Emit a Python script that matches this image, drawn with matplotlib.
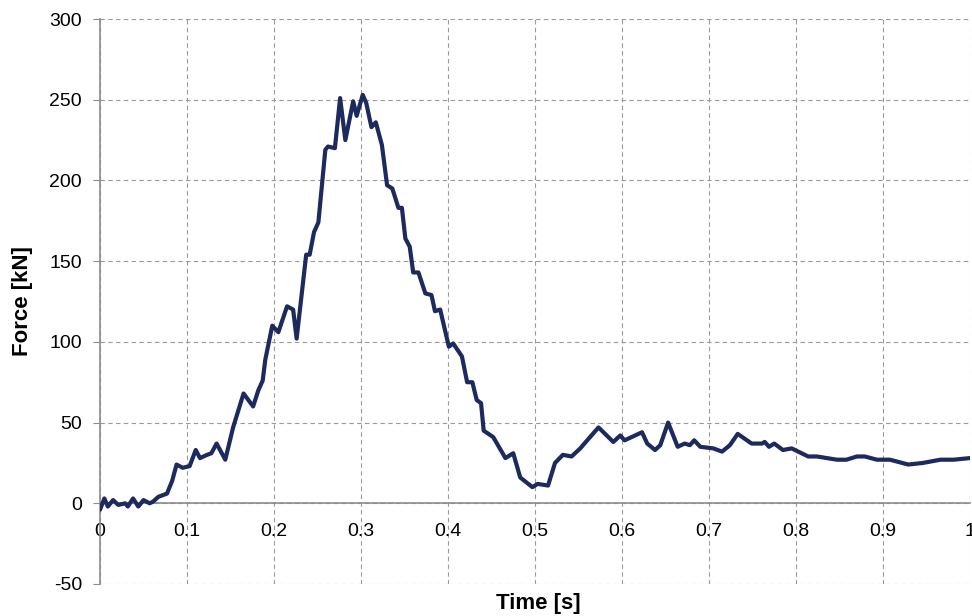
import matplotlib
matplotlib.use('Agg')
import matplotlib.pyplot as plt

plt.rcParams['font.family'] = ['Liberation Sans', 'DejaVu Sans']
plt.rcParams['axes.unicode_minus'] = False

# Force-time trace
time_s = [0.000, 0.005, 0.009, 0.015, 0.021, 0.029, 0.032, 0.038, 0.044, 0.050,
          0.057, 0.061, 0.067, 0.077, 0.083, 0.088, 0.095, 0.103, 0.110, 0.115,
          0.123, 0.128, 0.134, 0.144, 0.153, 0.165, 0.176, 0.182, 0.187, 0.190,
          0.198, 0.205, 0.215, 0.222, 0.226, 0.237, 0.241, 0.246, 0.251, 0.259,
          0.262, 0.270, 0.276, 0.282, 0.291, 0.295, 0.302, 0.306, 0.312, 0.317,
          0.324, 0.330, 0.336, 0.343, 0.347, 0.351, 0.356, 0.360, 0.366, 0.374,
          0.381, 0.385, 0.391, 0.401, 0.406, 0.416, 0.422, 0.428, 0.433, 0.438,
          0.441, 0.452, 0.466, 0.475, 0.483, 0.497, 0.503, 0.515, 0.523, 0.532,
          0.542, 0.552, 0.560, 0.573, 0.590, 0.598, 0.603, 0.623, 0.629, 0.638,
          0.644, 0.653, 0.664, 0.672, 0.678, 0.683, 0.690, 0.705, 0.715, 0.724,
          0.733, 0.749, 0.761, 0.764, 0.769, 0.775, 0.785, 0.795, 0.814, 0.824,
          0.847, 0.858, 0.870, 0.879, 0.893, 0.908, 0.929, 0.946, 0.966, 0.981,
          1.000]
force_kn = [-4, 3, -2, 2, -1, 0, -2, 3, -2, 2,
            0, 1, 4, 6, 14, 24, 22, 23, 33, 28,
            30, 31, 37, 27, 47, 68, 60, 70, 76, 89,
            110, 106, 122, 120, 102, 154, 154, 168, 174, 219,
            221, 220, 251, 225, 249, 240, 253, 248, 233, 236,
            222, 197, 195, 183, 183, 164, 159, 143, 143, 130,
            129, 119, 120, 97, 99, 91, 75, 75, 64, 62,
            45, 41, 28, 31, 16, 10, 12, 11, 25, 30,
            29, 34, 39, 47, 38, 42, 39, 44, 37, 33,
            36, 50, 35, 37, 36, 39, 35, 34, 32, 36,
            43, 37, 37, 38, 35, 37, 33, 34, 29, 29,
            27, 27, 29, 29, 27, 27, 24, 25, 27, 27,
            28]

x_ticks = [0, 0.1, 0.2, 0.3, 0.4, 0.5, 0.6, 0.7, 0.8, 0.9, 1]
x_labels = ['0', '0.1', '0.2', '0.3', '0.4', '0.5', '0.6', '0.7', '0.8', '0.9', '1']
y_ticks = [-50, 0, 50, 100, 150, 200, 250, 300]

LINE_COLOR = '#1c2a5e'
GRID_COLOR = '#9a9a9a'
AXIS_COLOR = '#8c8c8c'

fig = plt.figure(figsize=(9.72, 6.16), dpi=100)
ax = fig.add_axes([100 / 972, 1 - 584 / 616, 870 / 972, 565 / 616])

ax.plot(time_s, force_kn, color=LINE_COLOR, linewidth=3.0,
        solid_joinstyle='round', solid_capstyle='round', zorder=3)

ax.set_xlim(0, 1)
ax.set_ylim(-50, 300)
ax.set_xticks(x_ticks)
ax.set_xticklabels(x_labels)
ax.set_yticks(y_ticks)

ax.grid(True, color=GRID_COLOR, linestyle=(0, (4, 3)), linewidth=0.8)
ax.set_axisbelow(True)

# Excel-like axes: x axis crossing at zero, no frame
ax.spines['top'].set_visible(False)
ax.spines['right'].set_visible(False)
ax.spines['bottom'].set_position(('data', 0))
ax.spines['bottom'].set_color(AXIS_COLOR)
ax.spines['bottom'].set_linewidth(1.2)
ax.spines['left'].set_color(AXIS_COLOR)
ax.spines['left'].set_linewidth(1.2)

ax.tick_params(axis='y', length=5, color=AXIS_COLOR, labelsize=14, pad=8)
ax.tick_params(axis='x', length=0, labelsize=14, pad=14)

ax.set_ylabel('Force [kN]', fontsize=16, fontweight='bold', labelpad=12)
fig.text(538 / 972, 1 - 603 / 616, 'Time [s]', fontsize=16, fontweight='bold',
         ha='center', va='center')

fig.savefig('out.png', dpi=100)
